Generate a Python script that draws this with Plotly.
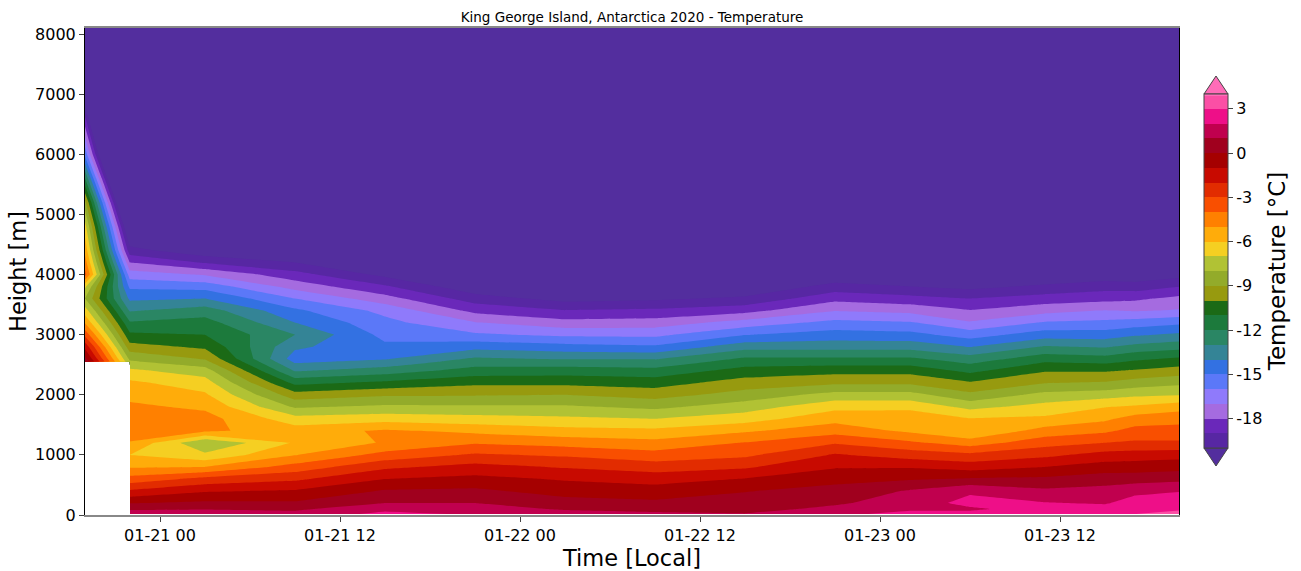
import plotly.graph_objects as go

nan = float("nan")

heights = [15, 100, 200, 400, 600, 800, 1000, 1200, 1400, 1600, 1800, 2000, 2200, 2400, 2500, 2555, 2600,
           2800, 3000, 3200, 3400, 3600, 3800, 4000, 4200, 4400, 4800, 5200, 5600, 6000, 6600, 7000, 8100]

times = ["2020-01-20 19:00", "2020-01-20 21:59", "2020-01-20 22:00", "2020-01-21 03:00", "2020-01-21 09:00",
         "2020-01-21 15:00", "2020-01-21 21:00", "2020-01-22 03:00", "2020-01-22 09:00", "2020-01-22 15:00",
         "2020-01-22 21:00", "2020-01-23 02:00", "2020-01-23 06:00", "2020-01-23 11:00", "2020-01-23 15:00",
         "2020-01-23 17:00", "2020-01-23 20:00"]

t_0120_19 = [nan]*15 + [0.8, 0.3, -1.3, -3.3, -5.1, -6.55, -8, -6.8, -3.6, -4.5, -5.3, -6.6, -8.7, -12, -15.3, -18.8, -23, -35]
t_0120_22 = [1.6, 0.85, -0.05, -1.85, -3.6, -5.1, -6, -5.1, -4.2, -4.4, -4.8, -5.3, -5.8, -6.8, -7.45, -7.9, -8.2, -9.6, -10.8, -11.9, -13.1, -14.2, -15.2, -16.5, -18, -19.6, -22, -25, -28, -31, -35, -38, -46]
t_0120_2159 = [nan]*15 + t_0120_22[15:]
t_0121_03 = [1.5, 0.95, 0.2, -1.1, -2.7, -5, -6.8, -7.95, -4.8, -4.6, -5.2, -5.85, -6.55, -7.5, -8.3, -8.75, -9.1, -10.2, -11, -11.6, -12.5, -14, -15.4, -17.1, -19.1, -20.8, -23, -26, -29, -32, -36, -39, -47]
t_0121_09 = [1.4, 0.8, 0.14, -0.9, -2.2, -3.6, -5.05, -5.9, -5.5, -6.6, -8.15, -9.6, -11.3, -13.1, -13.8, -14.2, -14.5, -13.8, -13, -14, -14.8, -16, -17.4, -18.6, -20, -21, -24, -27, -30, -33, -37, -40, -48]
t_0121_15 = [2.25, 1.75, 1, 0.1, -1, -2.2, -3.65, -4.9, -4.85, -6.4, -7.8, -9.15, -10.8, -12.5, -13.3, -13.75, -14.1, -14.8, -15.3, -15.7, -16.3, -17.6, -18.85, -20.3, -21.5, -22.5, -25, -27, -30, -33, -37, -40, -48]
t_0121_21 = [1.9, 1.4, 1, 0.2, -0.7, -1.65, -2.85, -4.1, -5.25, -6.6, -7.85, -9.1, -10.25, -11.6, -12.2, -12.55, -12.85, -14.35, -15.85, -16.95, -18.3, -19.5, -20.8, -21.5, -22.3, -23, -25, -27, -30, -33, -37, -40, -48]
t_0122_03 = [1.4, 0.9, 0.4, -0.4, -1.1, -2.1, -3.15, -4.4, -5.65, -6.8, -7.85, -9, -10.25, -11.5, -12.25, -12.7, -13.1, -14.65, -16.2, -17.65, -18.95, -20.4, -21.3, -22, -22.8, -23.5, -25, -27, -30, -33, -37, -40, -48]
t_0122_09 = [1.2, 0.7, 0.2, -0.55, -1.4, -2.5, -3.6, -4.7, -5.75, -7, -8.25, -9.4, -10.45, -11.65, -12.35, -12.75, -13.1, -14.85, -16.25, -17.55, -18.8, -20.2, -21.2, -22, -22.7, -23.4, -25, -27, -30, -33, -37, -40, -48]
t_0122_15 = [1.05, 0.65, 0.45, -0.05, -0.95, -2.15, -3.2, -3.95, -5.15, -6.45, -7.5, -8.6, -9.55, -10.6, -11.2, -11.55, -11.85, -13.4, -15.05, -16.6, -18.35, -19.8, -21, -22, -22.7, -23.3, -25, -27, -30, -33, -37, -40, -48]
t_0122_21 = [1.7, 1.25, 0.85, 0.35, -0.3, -1.1, -1.9, -3.1, -4.4, -5.35, -6.3, -7.65, -9.2, -10.35, -11.1, -11.5, -11.85, -13.4, -14.55, -15.7, -17.05, -18.3, -19.6, -20.9, -21.8, -22.6, -25, -27, -30, -33, -37, -40, -48]
t_0123_02 = [2.4, 1.8, 1.5, 1.1, -0.1, -1.1, -2.45, -3.8, -5.2, -5.25, -6.3, -7.65, -9.2, -10.35, -11.1, -11.5, -11.85, -13.4, -14.7, -15.9, -17.3, -18.65, -20, -21, -21.9, -22.7, -25, -27, -30, -33, -37, -40, -48]
t_0123_06 = [2.3, 1.85, 2.3, 1.85, 0.1, -1.45, -2.75, -4.5, -5.95, -5.95, -7.3, -8.75, -9.9, -11.25, -11.9, -12.25, -12.55, -14.05, -15.45, -16.9, -17.95, -19, -20.3, -21.2, -22, -22.7, -25, -27, -30, -33, -37, -40, -48]
t_0123_11 = [2.6, 2.4, 2.05, 1.2, 0.2, -1, -2.25, -3.4, -4.6, -5.8, -6.65, -7.7, -9.05, -10.1, -10.75, -11.1, -11.45, -12.9, -14.5, -15.9, -17.35, -18.55, -19.8, -21, -21.7, -22.4, -25, -27, -30, -33, -37, -40, -48]
t_0123_15 = [2.8, 2.4, 1.9, 1.35, 0.55, -0.55, -1.6, -3, -4.2, -5.2, -6.05, -7.45, -8.9, -10.1, -10.85, -11.3, -11.65, -13.1, -14.55, -15.75, -16.95, -18.35, -19.4, -20.7, -21.5, -22.2, -25, -27, -30, -33, -37, -40, -48]
t_0123_17 = [3, 2.7, 2.4, 1.75, 0.55, -0.5, -1.5, -2.85, -3.65, -4.55, -5.85, -7.2, -8.55, -9.9, -10.55, -10.9, -11.2, -12.7, -14.15, -15.55, -17.1, -18.2, -19.5, -20.8, -21.5, -22.2, -25, -27, -30, -33, -37, -40, -48]
t_0123_20 = [3.4, 2.85, 2.55, 1.95, 0.7, -0.35, -1.4, -2.85, -3.6, -4.35, -5.4, -7.05, -8.25, -9.55, -10.2, -10.55, -10.85, -12.4, -13.8, -15.2, -16.9, -17.7, -19, -20.4, -21.2, -22, -25, -27, -30, -33, -37, -40, -48]

columns = [t_0120_19, t_0120_2159, t_0120_22, t_0121_03, t_0121_09, t_0121_15, t_0121_21, t_0122_03, t_0122_09,
           t_0122_15, t_0122_21, t_0123_02, t_0123_06, t_0123_11, t_0123_15, t_0123_17, t_0123_20]
z = [[col[r] for col in columns] for r in range(len(heights))]

band_colors = ["#532E9E", "#5727A3", "#6A28BA", "#A56BE0", "#8F7AFB", "#5B78F8", "#3371E2", "#348496", "#2A8664",
               "#1C7A3C", "#1B6A16", "#979A0F", "#93AB2A", "#B1C234", "#F5CF22", "#FFAC0A", "#FF8000", "#F94F00",
               "#E22C00", "#C80A00", "#A50000", "#A0001E", "#C0004E", "#EE0F88", "#FB4FA5", "#FF6CB8"]
# plotly samples the colour scale at each band's centre: 26 centres spread evenly over [0, 1]
colorscale = []
m = len(band_colors) - 1
for i, c in enumerate(band_colors):
    colorscale += [[max(0, (i - 0.5) / m), c], [min(1, (i + 0.5) / m), c]]

cbar_ticks = [-18, -15, -12, -9, -6, -3, 0, 3]
cbar_labels = ["-18", "-15", "-12", "-9", "-6", "-3", "0", "3"]

FONT = "DejaVu Sans"
W, H = 1301, 571
L, R, T, B = 85, 122, 28, 56
pw, ph = W - L - R, H - T - B
px = lambda v: (v - L) / pw
py = lambda v: (H - B - v) / ph

fig = go.Figure(go.Contour(
    x=times, y=heights, z=z,
    autocontour=False, connectgaps=False,
    contours=dict(start=-20, end=4, size=1, coloring="fill", showlines=False),
    line=dict(width=0, smoothing=0),
    colorscale=colorscale, zmin=-20, zmax=4,
    hoverinfo="skip",
    colorbar=dict(
        x=px(1204), xanchor="left", xpad=0, y=py(448), yanchor="bottom", ypad=0,
        lenmode="pixels", len=354, thicknessmode="pixels", thickness=24,
        outlinecolor="#444444", outlinewidth=1,
        tickmode="array", tickvals=cbar_ticks, ticktext=cbar_labels,
        ticks="outside", ticklen=5, tickwidth=1, tickcolor="#444444",
        tickfont=dict(family=FONT, size=16, color="black"),
        title=dict(text="Temperature [°C]", side="right", font=dict(family=FONT, size=23, color="black")),
    ),
))

fig.update_layout(
    width=W, height=H, autosize=False,
    margin=dict(l=L, r=R, t=T, b=B, autoexpand=False),
    paper_bgcolor="white", plot_bgcolor="white",
    font=dict(family=FONT, color="black"),
    title=dict(text="King George Island, Antarctica 2020 - Temperature", x=px(632), xref="paper", xanchor="center",
               y=1 - 17 / H, yanchor="middle", font=dict(family=FONT, size=13.5, color="black")),
    xaxis=dict(type="date", range=["2020-01-20 19:00", "2020-01-23 19:56"],
               tick0="2020-01-21 00:00", dtick=43200000, tickformat="%m-%d %H",
               ticks="outside", ticklen=5, tickwidth=1, tickcolor="#444444",
               tickfont=dict(size=16), showgrid=False, zeroline=False,
               showline=True, mirror=True, linecolor="#888888", linewidth=2,
               title=dict(text="Time [Local]", font=dict(size=22.5), standoff=6)),
    yaxis=dict(range=[0, 8100], tickmode="array", tickvals=[0, 1000, 2000, 3000, 4000, 5000, 6000, 7000, 8000],
               tickformat="d", ticks="outside", ticklen=5, tickwidth=1, tickcolor="#444444",
               tickfont=dict(size=16), showgrid=False, zeroline=False,
               showline=True, mirror=True, linecolor="black", linewidth=1,
               title=dict(text="Height [m]", font=dict(size=22.5), standoff=2)),
    shapes=[
        dict(type="path", xref="paper", yref="paper", fillcolor="#FF6CB8", line=dict(color="#444444", width=1),
             path=f"M {px(1204)} {py(94)} L {px(1216)} {py(76)} L {px(1228)} {py(94)} Z"),
        dict(type="path", xref="paper", yref="paper", fillcolor="#532E9E", line=dict(color="#444444", width=1),
             path=f"M {px(1204)} {py(448)} L {px(1216)} {py(466)} L {px(1228)} {py(448)} Z"),
    ],
)

fig.write_html("out.html", config={"displayModeBar": False}, post_script="document.body.style.margin='0';")
